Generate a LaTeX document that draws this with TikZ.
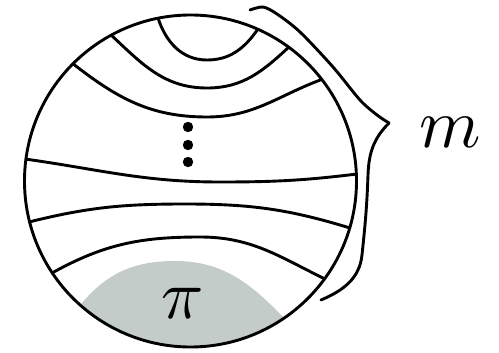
\documentclass[tikz,border=0pt]{standalone}
\usepackage{tikz}
\definecolor{regiongray}{RGB}{196,204,202}
\begin{document}
\begin{tikzpicture}[x=1pt,y=-1pt,
  curve/.style={line width=2.9pt, line join=round},
  bigfont/.style={scale=7, inner sep=0pt}]
\useasboundingbox (0,0) rectangle (499,353);
\coordinate (c) at (190.5,181);
\begin{scope}
  \clip (c) circle[radius=166];
  \fill[regiongray] (72,314) -- (82,303) to[out=50, in=180] (175,261) to[out=0, in=134] (283,317) -- (291,326)
     -- (291,360) -- (72,360) -- cycle;
  \draw[curve] (157,16) -- (158,18) to[out=-72, in=180] (207,60) to[out=0, in=-125] (258,29) -- (260,26);
  \draw[curve] (106,30) -- (110,34) to[out=-43, in=180] (207,88) to[out=0, in=-137] (290,46) -- (294,42);
  \draw[curve] (66,58) -- (72,63) to[out=-38, in=180] (207,117) to[out=0, in=-160] (323,79) -- (330,76);
  \draw[curve] (18,158) -- (25,159) to[out=-8, in=180] (220,182) to[out=0, in=-173] (357,174) -- (364,173);
  \draw[curve] (22,224) -- (29,222) to[out=14, in=180] (185,204) to[out=0, in=163] (350,228) -- (357,230);
  \draw[curve] (46,276) -- (52,273) to[out=29, in=180] (200,237) to[out=0, in=154] (325,279) -- (331,282);
\end{scope}
\draw[curve] (c) circle[radius=166];
\foreach \yy in {127,145,162}
  \fill (188,\yy) circle[radius=5.2];
\draw[curve, line cap=round] plot[smooth] coordinates {(250,10) (263,7) (277,14) (300,32) (333,67) (360,100) (377,115) (389,123)};
\draw[curve, line cap=round] (389,123) to[out=-135, in=88] (368,175) to[out=-92, in=84] (362,255) to[out=-96, in=23] (321,300);
\node[bigfont, anchor=base] (mlabel) at (450,148) {$m$};
\node[bigfont, anchor=base] (pilabel) at (183,318) {$\pi$};
\end{tikzpicture}
\end{document}
